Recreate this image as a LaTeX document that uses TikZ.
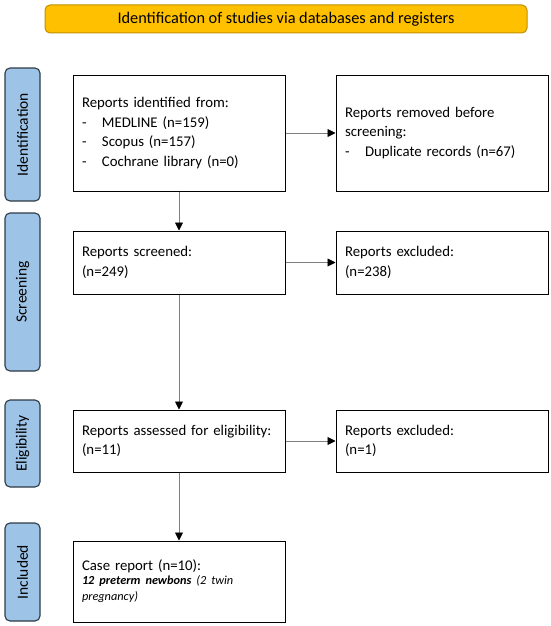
\documentclass[tikz,border=0pt]{standalone}
\usepackage{fontspec}
\setmainfont{Carlito}
\usetikzlibrary{arrows.meta, positioning}
\definecolor{titlefill}{HTML}{FFC000}
\definecolor{titledraw}{HTML}{BF9000}
\definecolor{phasefill}{HTML}{9DC3E6}
\definecolor{phasedraw}{HTML}{2E3A46}
\definecolor{linkgray}{HTML}{7F7F7F}
\newcommand{\dashitem}[1]{\makebox[20pt][l]{-}#1}

\begin{document}
\begin{tikzpicture}[x=1pt, y=1pt,
  box/.style = {draw, line width=1pt, minimum width=212pt, text width=194pt,
    inner xsep=9pt, inner ysep=6pt, align=left, font=\fontsize{14.8}{19.5}\selectfont},
  phase/.style = {draw=phasedraw, fill=phasefill, line width=1.1pt, rounded corners=5pt,
    rotate=90, minimum height=35pt, inner sep=0pt, font=\fontsize{15.5}{18}\selectfont},
  link/.style = {draw=linkgray, line width=0.9pt, -{Triangle[length=8pt, width=8pt, color=black]}}]
    \useasboundingbox (0,0) rectangle (550,-626);
    % title banner
    \node[draw=titledraw, fill=titlefill, line width=1pt, rounded corners=5pt,
      minimum width=482pt, minimum height=28pt, font=\fontsize{16.3}{18}\selectfont]
      (title) at (286,-19) {Identification of studies via databases and registers};
    % phases
    \node[phase, minimum width=133pt] (ident) at (22.5,-134.5) {Identification};
    \node[phase, minimum width=158pt] (screen) at (22.5,-292) {Screening};
    \node[phase, minimum width=87pt] (elig) at (22.5,-443.5) {Eligibility};
    \node[phase, minimum width=98pt] (incl) at (22.5,-572) {Included};
    % boxes
    \node[box, minimum height=116pt] (found) at (179,-133) {Reports identified from:\\
      \dashitem{MEDLINE (n=159)}\\
      \dashitem{Scopus (n=157)}\\
      \dashitem{Cochrane library (n=0)}};
    \node[box, minimum height=116pt] (removed) [right=50pt of found] {Reports removed before\\ screening:\\
      \dashitem{Duplicate records (n=67)}};
    \node[box, minimum height=63pt] (screened) [below=39pt of found] {Reports screened:\\ (n=249)};
    \node[box, minimum height=63pt] (excl1) [right=50pt of screened] {Reports excluded:\\ (n=238)};
    \node[box, minimum height=62pt] (assessed) [below=115pt of screened] {Reports assessed for eligibility:\\ (n=11)};
    \node[box, minimum height=62pt] (excl2) [right=50pt of assessed] {Reports excluded:\\ (n=1)};
    \node[box, minimum height=81pt] (cases) [below=68pt of assessed] {Case report (n=10):\\[-2pt]
      {\fontsize{12.3}{16}\selectfont\itshape\textbf{12 preterm newbons} (2 twin\\ pregnancy)\par}};
    % links
    \draw[link] (found) -- (removed);
    \draw[link] (found) -- (screened);
    \draw[link] (screened) -- (excl1);
    \draw[link] (screened) -- (assessed);
    \draw[link] (assessed) -- (excl2);
    \draw[link] (assessed) -- (cases);
\end{tikzpicture}
\end{document}
